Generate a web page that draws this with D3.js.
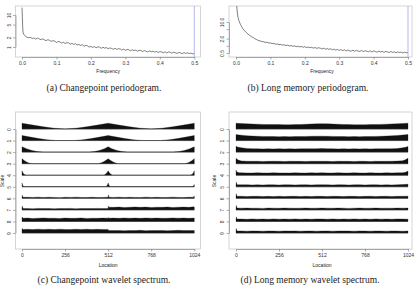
<!DOCTYPE html>
<html><head><meta charset="utf-8">
<script src="https://cdn.jsdelivr.net/npm/d3@7"></script>
<style>body{margin:0;background:#fff;overflow:hidden}</style></head>
<body><svg id="c" width="417" height="285"></svg>
<script>
// ---------- DATA ----------
const freqTicks = [0, 0.1, 0.2, 0.3, 0.4, 0.5];
const freqHead = [0.000, 0.001, 0.002, 0.003, 0.005, 0.008, 0.010, 0.013, 0.016, 0.020];
const freqMain = [0.025,0.030,0.035,0.040,0.045,0.050,0.055,0.060,0.065,0.070,0.075,0.080,0.085,0.090,0.095,0.100,
  0.105,0.110,0.115,0.120,0.125,0.130,0.135,0.140,0.145,0.150,0.155,0.160,0.165,0.170,0.175,0.180,0.185,0.190,0.195,0.200,
  0.205,0.210,0.215,0.220,0.225,0.230,0.235,0.240,0.245,0.250,0.255,0.260,0.265,0.270,0.275,0.280,0.285,0.290,0.295,0.300,
  0.305,0.310,0.315,0.320,0.325,0.330,0.335,0.340,0.345,0.350,0.355,0.360,0.365,0.370,0.375,0.380,0.385,0.390,0.395,0.400,
  0.405,0.410,0.415,0.420,0.425,0.430,0.435,0.440,0.445,0.450,0.455,0.460,0.465,0.470,0.475,0.480,0.485,0.490,0.495,0.500];

// (a) changepoint periodogram
const cpHead = [17, 9, 4.2, 2.9, 2.5, 2.3, 2.15, 2.05, 2.0, 1.96];
const cpMain = [1.98,1.84,1.92,1.76,1.90,1.79,1.70,1.80,1.68,1.57,1.70,1.61,1.50,1.58,1.52,1.38,
  1.49,1.44,1.33,1.41,1.29,1.36,1.35,1.22,1.31,1.20,1.27,1.15,1.21,1.12,1.18,1.06,1.12,1.09,0.99,1.05,
  0.97,1.03,0.95,1.01,0.99,0.91,0.98,0.92,0.96,0.88,0.94,0.90,0.85,0.91,0.84,0.88,0.87,0.80,0.86,0.79,
  0.84,0.82,0.76,0.82,0.77,0.80,0.74,0.79,0.78,0.72,0.78,0.73,0.70,0.76,0.71,0.74,0.69,0.73,0.67,0.72,
  0.70,0.66,0.71,0.65,0.70,0.69,0.64,0.69,0.66,0.63,0.68,0.65,0.62,0.67,0.63,0.66,0.62,0.65,0.61,0.64];
const cpTicks = [1, 2, 5, 10];
const cpTickLabels = ["1", "2", "5", "10"];

// (b) long memory periodogram
const freqHeadB = [0.002, 0.004, 0.006, 0.008, 0.010, 0.013, 0.016, 0.020];
const lmHead = [48, 24, 15.5, 12, 10, 7.9, 6.5, 5.2];
const lmMain = [4.30,3.62,3.08,2.73,2.41,2.24,1.97,1.83,1.67,1.63,1.50,1.50,1.39,1.41,1.31,1.33,
  1.24,1.27,1.17,1.20,1.12,1.15,1.07,1.11,1.03,1.07,0.99,1.03,0.95,1.00,0.92,0.97,0.90,0.94,0.87,0.92,
  0.85,0.89,0.83,0.87,0.80,0.85,0.78,0.83,0.80,0.74,0.79,0.72,0.77,0.71,0.75,0.68,0.73,0.66,0.71,0.64,
  0.70,0.63,0.68,0.61,0.67,0.62,0.60,0.66,0.59,0.65,0.60,0.58,0.64,0.57,0.62,0.60,0.56,0.62,0.55,0.61,
  0.58,0.54,0.60,0.55,0.59,0.53,0.58,0.56,0.52,0.58,0.53,0.56,0.51,0.56,0.52,0.55,0.50,0.54,0.51,0.53];
const lmTicks = [0.5, 1, 2, 5, 10];
const lmTickLabels = ["0.5", "", "2.0", "", "10.0"];

// wavelet spectra
const locTicks = [0, 256, 512, 768, 1024];
const scaleTicks = [0,1,2,3,4,5,6,7,8,9];
const locGrid = [0,32,64,96,128,160,192,224,256,288,320,352,384,416,448,480,512,
  544,576,608,640,672,704,736,768,800,832,864,896,928,960,992,1024];

// (c) changepoint wavelet spectrum: [location, value]
const cpRow0 = [[0,0.50],[64,0.34],[128,0.19],[192,0.07],[256,0.0],[320,0.07],[384,0.19],[448,0.34],[512,0.50],
  [576,0.34],[640,0.19],[704,0.07],[768,0.0],[832,0.07],[896,0.19],[960,0.34],[1024,0.50]];
const cpRow1 = [[0,0.44],[50,0.30],[100,0.17],[150,0.07],[200,0.01],[260,0.0],[312,0.01],[362,0.07],[412,0.17],[462,0.30],[512,0.44],
  [562,0.30],[612,0.17],[662,0.07],[712,0.01],[764,0.0],[824,0.01],[874,0.07],[924,0.17],[974,0.30],[1024,0.44]];
const cpRow2 = [[0,0.46],[30,0.28],[60,0.14],[90,0.05],[125,0.0],[400,0.0],[430,0.05],[460,0.15],[490,0.30],[512,0.46],
  [534,0.30],[564,0.15],[594,0.05],[624,0.0],[899,0.0],[934,0.05],[964,0.14],[994,0.28],[1024,0.46]];
const cpRow3 = [[0,0.43],[15,0.25],[30,0.12],[45,0.04],[60,0.0],[452,0.0],[467,0.05],[482,0.14],[497,0.27],[512,0.43],
  [527,0.27],[542,0.14],[557,0.05],[572,0.0],[964,0.0],[979,0.04],[994,0.12],[1009,0.25],[1024,0.43]];
const cpRow4 = [[0,0.38],[6,0.20],[12,0.08],[24,0.0],[486,0.0],[494,0.06],[502,0.16],[508,0.28],[512,0.38],
  [516,0.28],[522,0.16],[530,0.06],[538,0.0],[1000,0.0],[1012,0.08],[1018,0.20],[1024,0.38]];
const cpRow5 = [[0,0.33],[3,0.15],[8,0.04],[14,0.02],[500,0.02],[505,0.08],[509,0.20],[512,0.33],[515,0.20],[519,0.08],
  [524,0.02],[1010,0.02],[1016,0.05],[1021,0.12],[1024,0.20]];
const cpRow6 = [0.07,0.09,0.08,0.10,0.07,0.09,0.08,0.06,0.09,0.08,0.10,0.07,0.08,0.09,0.07,0.08,0.09,
  0.08,0.10,0.07,0.09,0.08,0.07,0.10,0.08,0.09,0.07,0.08,0.10,0.08,0.07,0.09,0.08];
const cpRow6x = [[2,0.27],[6,0.09],[509,0.09],[513,0.30],[517,0.09],[1021,0.09],[1023,0.22]];
const cpRow7 = [0.11,0.12,0.10,0.13,0.11,0.12,0.10,0.12,0.11,0.13,0.10,0.12,0.11,0.12,0.13,0.11,0.11,
  0.22,0.24,0.21,0.23,0.25,0.22,0.24,0.21,0.23,0.22,0.25,0.21,0.23,0.24,0.22,0.23];
const cpRow7x = [[2,0.33],[6,0.12],[509,0.12],[513,0.34],[517,0.23],[1022,0.27]];
const cpRow8 = [0.27,0.29,0.26,0.28,0.30,0.27,0.28,0.26,0.29,0.27,0.28,0.30,0.26,0.28,0.27,0.29,0.28,
  0.29,0.27,0.30,0.28,0.29,0.27,0.30,0.28,0.29,0.27,0.28,0.30,0.28,0.29,0.27,0.29];
const cpRow8x = [[2,0.38],[6,0.28],[513,0.34],[517,0.28]];
const cpRow9 = [0.31,0.32,0.30,0.33,0.31,0.32,0.30,0.33,0.31,0.30,0.32,0.31,0.33,0.30,0.32,0.31,0.31,
  0.21,0.22,0.20,0.22,0.21,0.23,0.20,0.22,0.21,0.22,0.20,0.21,0.23,0.21,0.22,0.21];
const cpRow9x = [[2,0.39],[6,0.31],[511,0.31],[514,0.22]];

// (d) long memory wavelet spectrum
const lmRow0 = [0.49,0.47,0.45,0.43,0.41,0.40,0.39,0.38,0.38,0.37,0.37,0.38,0.39,0.41,0.43,0.45,0.46,
  0.45,0.43,0.41,0.39,0.38,0.37,0.37,0.37,0.38,0.39,0.40,0.42,0.44,0.46,0.48,0.50];
const lmRow1 = [0.52,0.46,0.42,0.39,0.37,0.36,0.35,0.35,0.34,0.35,0.34,0.35,0.35,0.36,0.37,0.38,0.38,
  0.37,0.36,0.35,0.35,0.34,0.35,0.34,0.35,0.35,0.36,0.37,0.39,0.41,0.44,0.48,0.53];
const lmRow2 = [0.50,0.38,0.32,0.30,0.29,0.28,0.29,0.28,0.30,0.28,0.29,0.28,0.29,0.30,0.29,0.30,0.31,
  0.30,0.29,0.28,0.29,0.28,0.29,0.28,0.29,0.28,0.29,0.29,0.29,0.30,0.31,0.37,0.49];
const lmRow2x = [[8,0.45],[16,0.42],[1008,0.42],[1016,0.45]];
const lmRow3 = [0.46,0.24,0.21,0.20,0.21,0.19,0.20,0.21,0.20,0.19,0.21,0.20,0.20,0.19,0.21,0.20,0.21,
  0.20,0.19,0.21,0.20,0.20,0.19,0.21,0.20,0.19,0.21,0.20,0.20,0.21,0.22,0.25,0.46];
const lmRow3x = [[6,0.38],[14,0.31],[22,0.27],[1000,0.29],[1008,0.34],[1016,0.40]];
const lmRow4 = [0.44,0.21,0.20,0.19,0.21,0.20,0.19,0.21,0.20,0.20,0.19,0.21,0.20,0.19,0.21,0.20,0.21,
  0.20,0.19,0.21,0.20,0.19,0.21,0.20,0.19,0.21,0.20,0.19,0.21,0.20,0.21,0.22,0.36];
const lmRow4x = [[4,0.31],[10,0.25],[18,0.22],[1008,0.25],[1016,0.29]];
const lmRow5 = [0.16,0.17,0.18,0.16,0.17,0.15,0.18,0.17,0.16,0.18,0.17,0.16,0.17,0.18,0.16,0.17,0.18,
  0.17,0.16,0.18,0.17,0.15,0.17,0.18,0.16,0.17,0.18,0.16,0.17,0.16,0.18,0.19,0.22];
const lmRow6 = [0.16,0.18,0.16,0.17,0.18,0.16,0.17,0.15,0.18,0.16,0.17,0.18,0.16,0.17,0.16,0.18,0.17,
  0.16,0.18,0.17,0.16,0.18,0.17,0.16,0.17,0.18,0.16,0.17,0.18,0.16,0.17,0.18,0.19];
const lmRow7 = [0.14,0.15,0.16,0.14,0.15,0.13,0.16,0.15,0.14,0.16,0.15,0.14,0.15,0.16,0.14,0.15,0.16,
  0.15,0.14,0.16,0.15,0.13,0.15,0.16,0.14,0.15,0.16,0.14,0.15,0.14,0.16,0.15,0.16];
const lmRow8 = [0.20,0.21,0.19,0.22,0.20,0.21,0.19,0.22,0.20,0.21,0.20,0.22,0.19,0.21,0.20,0.22,0.21,
  0.20,0.22,0.19,0.21,0.20,0.22,0.20,0.21,0.19,0.22,0.20,0.21,0.20,0.22,0.21,0.20];
const lmRow9 = [0.17,0.18,0.16,0.18,0.17,0.16,0.18,0.17,0.16,0.18,0.17,0.18,0.16,0.17,0.18,0.16,0.17,
  0.18,0.16,0.17,0.18,0.17,0.16,0.18,0.17,0.16,0.18,0.17,0.16,0.18,0.17,0.16,0.17];
const lmSpike5 = [[2,0.41],[6,0.18]];
const lmSpike6 = [[2,0.40],[6,0.17]];
const lmSpike7 = [[2,0.39],[6,0.16]];
const lmSpike8 = [[2,0.40],[6,0.21]];
const lmSpike9 = [[2,0.40],[6,0.17]];

// ---------- DRAWING ----------
const svg = d3.select("#c");
const SANS = "'Liberation Sans', Arial, Helvetica, sans-serif";
const SERIF = "'Liberation Serif', 'Times New Roman', serif";
const AX = "#777";
function zip(xs, ys){ return xs.map((x,i)=>[x, ys[i]]); }
function merge(grid, extra){ return zip(locGrid, grid).concat(extra||[]).sort((a,b)=>a[0]-b[0]); }

function styleAxis(g){
  g.select(".domain").attr("stroke", AX).attr("stroke-width", 0.6);
  g.selectAll(".tick line").attr("stroke", AX).attr("stroke-width", 0.6);
  g.selectAll(".tick text").attr("fill", "#333").style("font-family", SANS).style("font-size", "5px");
}
function rotateLeftLabels(g, off){
  g.selectAll(".tick text").attr("x", null).attr("dy", null).attr("y", null)
    .attr("text-anchor", "middle").attr("transform", `translate(${-off},0) rotate(-90)`);
}
let clipId = 0;
function frame(g, b){
  g.append("rect").attr("x", b.x0).attr("y", b.y0).attr("width", b.x1-b.x0).attr("height", b.y1-b.y0)
    .attr("fill", "none").attr("stroke", "#c4c4c4").attr("stroke-width", 0.7);
  const id = "clip" + (clipId++);
  g.append("clipPath").attr("id", id).append("rect")
    .attr("x", b.x0).attr("y", b.y0).attr("width", b.x1-b.x0).attr("height", b.y1-b.y0);
  return id;
}
function text(g, x, y, s, size, font, rot){
  const t = g.append("text").attr("x", x).attr("y", y).attr("text-anchor", "middle")
    .style("font-family", font).style("font-size", size + "px").attr("fill", "#222").text(s);
  if (rot) t.attr("transform", `rotate(-90,${x},${y})`);
  return t;
}

function perioPanel(o){
  const g = svg.append("g");
  const x = d3.scaleLinear().domain([0, 0.5]).range(o.xr);
  const y = d3.scaleLog().domain(o.yDom).range(o.yr);
  const id = frame(g, o.box);
  const data = zip(o.freq, o.vals);
  g.append("path").datum(data).attr("clip-path", `url(#${id})`)
    .attr("d", d3.line().x(d=>x(d[0])).y(d=>y(d[1])))
    .attr("fill", "none").attr("stroke", "#2a2a2a").attr("stroke-width", 0.6);
  g.append("line").attr("x1", x(0.5)).attr("x2", x(0.5)).attr("y1", o.box.y0).attr("y2", o.box.y1)
    .attr("stroke", "#a4a4ec").attr("stroke-width", 0.8);
  const gx = g.append("g").attr("transform", `translate(0,${o.box.y1})`)
    .call(d3.axisBottom(x).tickValues(freqTicks).tickFormat(d3.format(".1f")).tickSize(2.5).tickSizeOuter(0).tickPadding(1.5));
  styleAxis(gx);
  const gy = g.append("g").attr("transform", `translate(${o.box.x0},0)`)
    .call(d3.axisLeft(y).tickValues(o.yTicks).tickFormat((d,i)=>o.yLabels[i]).tickSize(2.5).tickSizeOuter(0));
  styleAxis(gy); rotateLeftLabels(gy, 4.8);
  text(g, (o.xr[0]+o.xr[1])/2, 73, "Frequency", 5, SANS);
  text(g, o.capX, 91, o.caption, 9.5, SERIF);
}

function specPanel(o){
  const g = svg.append("g");
  const x = d3.scaleLinear().domain([0, 1024]).range(o.xr);
  const y = d3.scaleLinear().domain([0, 9]).range([129, 233]);
  const h = d3.scaleLinear().domain([0, 1]).range([0, y(1)-y(0)]);
  const id = frame(g, o.box);
  const pg = g.append("g").attr("clip-path", `url(#${id})`);
  o.rows.forEach((row, i) => {
    pg.append("path").datum(row)
      .attr("d", d3.area().x(d=>x(d[0])).y0(y(i)).y1(d=>y(i) - h(d[1])))
      .attr("fill", "#111").attr("stroke", "#111").attr("stroke-width", 0.3);
    pg.append("line").attr("x1", x(0)).attr("x2", x(1024)).attr("y1", y(i)).attr("y2", y(i))
      .attr("stroke", "#333").attr("stroke-width", 0.6);
  });
  const gx = g.append("g").attr("transform", `translate(0,${o.box.y1})`)
    .call(d3.axisBottom(x).tickValues(locTicks).tickFormat(d3.format("d")).tickSize(2.5).tickSizeOuter(0).tickPadding(1.5));
  styleAxis(gx);
  const gy = g.append("g").attr("transform", `translate(${o.box.x0},0)`)
    .call(d3.axisLeft(y).tickValues(scaleTicks).tickSize(2.5).tickSizeOuter(0));
  styleAxis(gy); rotateLeftLabels(gy, 4.8);
  text(g, (o.xr[0]+o.xr[1])/2, 267, "Location", 5, SANS);
  text(g, o.scaleX, 181, "Scale", 5, SANS, true);
  text(g, o.capX, 282.5, o.caption, 9.5, SERIF);
}

perioPanel({ box:{x0:15.5, x1:200.5, y0:6, y1:57}, xr:[22, 194.3], yDom:[1,10], yr:[47,15],
  freq: freqHead.concat(freqMain), vals: cpHead.concat(cpMain), yTicks: cpTicks, yLabels: cpTickLabels,
  capX: 104, caption: "(a) Changepoint periodogram." });
perioPanel({ box:{x0:229, x1:412, y0:6, y1:57}, xr:[236, 408], yDom:[0.5,10], yr:[53,22],
  freq: freqHeadB.concat(freqMain), vals: lmHead.concat(lmMain), yTicks: lmTicks, yLabels: lmTickLabels,
  capX: 308, caption: "(b) Long memory periodogram." });

specPanel({ box:{x0:15.5, x1:200.5, y0:112, y1:249}, xr:[22, 194.3], scaleX: 3.5, capX: 104,
  caption: "(c) Changepoint wavelet spectrum.",
  rows: [cpRow0, cpRow1, cpRow2, cpRow3, cpRow4, cpRow5,
    merge(cpRow6, cpRow6x), merge(cpRow7, cpRow7x), merge(cpRow8, cpRow8x), merge(cpRow9, cpRow9x)] });
specPanel({ box:{x0:229, x1:412, y0:112, y1:249}, xr:[236, 408], scaleX: 215.5, capX: 310,
  caption: "(d) Long memory wavelet spectrum.",
  rows: [merge(lmRow0), merge(lmRow1), merge(lmRow2, lmRow2x), merge(lmRow3, lmRow3x), merge(lmRow4, lmRow4x),
    merge(lmRow5, lmSpike5), merge(lmRow6, lmSpike6), merge(lmRow7, lmSpike7), merge(lmRow8, lmSpike8), merge(lmRow9, lmSpike9)] });
</script></body></html>
